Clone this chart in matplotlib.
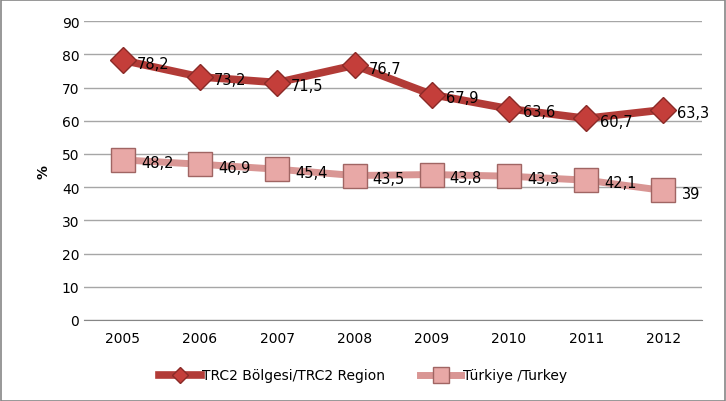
import matplotlib.pyplot as plt
from matplotlib.patches import Rectangle

years = ["2005", "2006", "2007", "2008", "2009", "2010", "2011", "2012"]
trc2 = [78.2, 73.2, 71.5, 76.7, 67.9, 63.6, 60.7, 63.3]
turkey = [48.2, 46.9, 45.4, 43.5, 43.8, 43.3, 42.1, 39]
yticks = [0, 10, 20, 30, 40, 50, 60, 70, 80, 90]

fig = plt.figure(figsize=(7.26, 4.02), dpi=100)
ax = fig.add_axes([0.116, 0.2015, 0.851, 0.7435])
x = list(range(len(years)))

ax.plot(x, trc2, color="#b23b37", linewidth=5.5, marker="D", markersize=13,
        markerfacecolor="#c43e3a", markeredgecolor="#8a2a27", markeredgewidth=1,
        label="TRC2 Bölgesi/TRC2 Region", zorder=3)
ax.plot(x, turkey, color="#d99694", linewidth=5, marker="s", markersize=17,
        markerfacecolor="#e8a8a6", markeredgecolor="#a06563", markeredgewidth=1,
        label="Türkiye /Turkey", zorder=3)

def fmt(v):
    s = ("%.1f" % v).replace(".", ",")
    return s[:-2] if s.endswith(",0") else s

for xi, v in zip(x, trc2):
    ax.annotate(fmt(v), (xi, v), xytext=(10, -2), textcoords="offset points",
                fontsize=10.5, va="center", ha="left", zorder=4)
for xi, v in zip(x, turkey):
    ax.annotate(fmt(v), (xi, v), xytext=(13, -2), textcoords="offset points",
                fontsize=10.5, va="center", ha="left", zorder=4)

ax.set_xlim(-0.5, len(years) - 0.5)
ax.set_ylim(0, 90)
ax.set_yticks(yticks)
ax.set_xticks(x)
ax.set_xticklabels(years)
ax.tick_params(labelsize=10, length=0)
ax.tick_params(axis="x", pad=8)
ax.grid(axis="y", color="#a6a6a6", linewidth=1)
ax.set_axisbelow(True)
for s in ["top", "right", "left"]:
    ax.spines[s].set_visible(False)
ax.spines["bottom"].set_color("#868686")
ax.set_ylabel("%", fontsize=10, fontweight="bold", labelpad=8)

fig.legend(loc="lower center", bbox_to_anchor=(0.5, 0.015), ncol=2, frameon=False,
           fontsize=10, handlelength=3, columnspacing=2.5, handletextpad=0.1,
           markerscale=0.65)

fig.patches.append(Rectangle((0.001, 0.001), 0.997, 0.997, transform=fig.transFigure,
                             fill=False, edgecolor="#868686", linewidth=1.2))

fig.savefig("out.png", dpi=100)
